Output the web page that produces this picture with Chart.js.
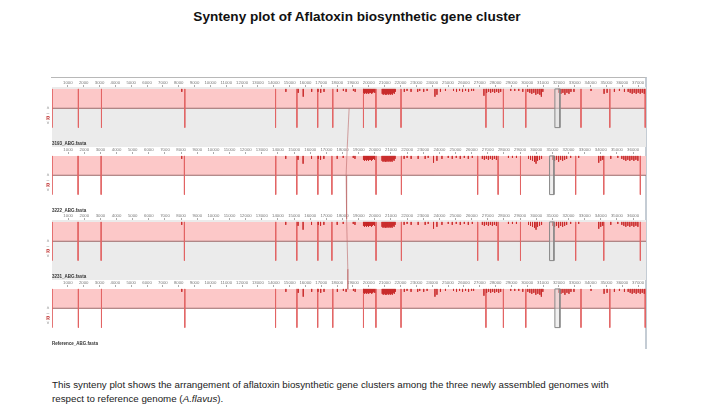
<!DOCTYPE html>
<html>
<head>
<meta charset="utf-8">
<script src="https://cdn.jsdelivr.net/npm/chart.js@4.4.0/dist/chart.umd.min.js"></script>
<style>
  body { margin: 0; width: 714px; height: 413px; background: #fff; position: relative; overflow: hidden; font-family: "Liberation Sans", Arial, sans-serif; }
  #title { position: absolute; left: 0; width: 714px; top: 9px; text-align: center; font-weight: bold; font-size: 13.6px; color: #111; }
  #frame { position: absolute; left: 51px; top: 77px; width: 594px; height: 271px; border-top: 1px solid #b8b8b8; border-right: 2px solid #c4ccd4; }
  .panel { position: absolute; left: 52px; width: 594px; height: 68px; }
  #overlay { position: absolute; left: 52px; top: 79px; width: 594px; height: 267px; pointer-events: none; }
  .ctl { position: absolute; left: 44px; width: 8px; font-size: 5px; line-height: 5px; text-align: center; color: #888; }
  .ctl b { color: #c03030; }
  #caption { position: absolute; left: 52px; top: 378px; font-size: 9.75px; line-height: 14px; color: #222; }
</style>
</head>
<body>
<div id="title">Synteny plot of Aflatoxin biosynthetic gene cluster</div>
<div id="frame"></div>
<canvas id="p0" class="panel" width="594" height="68" style="top:79px"></canvas>
<canvas id="p1" class="panel" width="594" height="68" style="top:146px"></canvas>
<canvas id="p2" class="panel" width="594" height="68" style="top:212px"></canvas>
<canvas id="p3" class="panel" width="594" height="68" style="top:279px"></canvas>
<canvas id="overlay" width="594" height="267"></canvas>
<div class="ctl" style="top:106px">&#708;<br>&ndash;<br><b>R</b><br>&#709;</div>
<div class="ctl" style="top:173px">&#708;<br>&ndash;<br><b>R</b><br>&#709;</div>
<div class="ctl" style="top:239px">&#708;<br>&ndash;<br><b>R</b><br>&#709;</div>
<div class="ctl" style="top:306px">&#708;<br>&ndash;<br><b>R</b><br>&#709;</div>
<div id="caption">This synteny plot shows the arrangement of aflatoxin biosynthetic gene clusters among the three newly assembled genomes with<br>respect to reference genome (<i>A.flavus</i>).</div>

<script>
// genomes, top to bottom
const panelNames = ['3193_ABG.fasta', '3222_ABG.fasta', '3231_ABG.fasta', 'Reference_ABG.fasta'];
const genomeLengths = [37500, 36800, 36800, 37500];

// ruler labels (bp)
const longTicks = [1000, 2000, 3000, 4000, 5000, 6000, 7000, 8000, 9000, 10000, 11000, 12000, 13000,
  14000, 15000, 16000, 17000, 18000, 19000, 20000, 21000, 22000, 23000, 24000, 25000, 26000,
  27000, 28000, 29000, 30000, 31000, 32000, 33000, 34000, 35000, 36000, 37000];
const shortTicks = [1000, 2000, 3000, 4000, 5000, 6000, 7000, 8000, 9000, 10000, 11000, 12000, 13000,
  14000, 15000, 16000, 17000, 18000, 19000, 20000, 21000, 22000, 23000, 24000, 25000, 26000,
  27000, 28000, 29000, 30000, 31000, 32000, 33000, 34000, 35000, 36000];

// LCB boundaries (bp)
const longBounds = [0, 1667, 3124, 8384, 14113, 15462, 16774, 17725, 19664, 20450, 22034,
  27395, 28498, 29911, 33396, 35215, 37450];
const shortBounds = [0, 1616, 3045, 8204, 13860, 15165, 16470, 17340, 20075, 21647,
  26370, 27638, 29024, 32442, 34183, 36450];

// similarity dips (bp) and how deep they drop
const longDipPos = [8194, 14765, 15545, 15861, 16394, 16793, 16964, 17173, 18016, 18396, 18567, 19030, 19138,
  19676, 19740, 19803, 19866, 19930, 19993, 20057, 20120, 20184, 20247, 20310, 20374,
  20849, 20912, 20975, 21039, 21102, 21166, 21229, 21292, 21356, 21419, 21483, 21546, 21609, 21673,
  22243, 22414, 22668, 23086, 23213, 23466, 23681, 24176, 24302, 24524, 24841,
  25348, 25538, 25728, 25918, 26108, 26299, 26489, 26615,
  27268, 27439, 27566, 27693, 27820, 27946, 28073, 28200, 28326,
  28960, 29213, 29467, 29721, 30037, 30163, 30290, 30418, 30544, 30671, 30798, 30893, 30988,
  32002, 32128, 32255, 32382, 32509, 32636, 32762, 32952, 34030, 34854, 35044,
  35506, 35823, 36140, 36374, 36501, 36628, 36755, 36881, 37008, 37135, 37262, 37389];
const longDipDepth = [0.15, 0.15, 0.2, 0.4, 0.15, 0.15, 0.2, 0.15, 0.15, 0.1, 0.15, 0.1, 0.15,
  0.2, 0.25, 0.2, 0.25, 0.2, 0.25, 0.2, 0.2, 0.25, 0.2, 0.15, 0.2,
  0.25, 0.3, 0.25, 0.3, 0.3, 0.25, 0.3, 0.25, 0.3, 0.25, 0.3, 0.2, 0.25, 0.15,
  0.15, 0.1, 0.15, 0.15, 0.1, 0.15, 0.1, 0.4, 0.3, 0.15, 0.1,
  0.1, 0.15, 0.1, 0.15, 0.1, 0.15, 0.1, 0.1,
  0.35, 0.2, 0.15, 0.2, 0.15, 0.2, 0.15, 0.2, 0.15,
  0.1, 0.1, 0.1, 0.15, 0.15, 0.2, 0.25, 0.2, 0.3, 0.25, 0.3, 0.4, 0.15,
  0.2, 0.25, 0.2, 0.3, 0.2, 0.25, 0.15, 0.15, 0.1, 0.25, 0.2,
  0.15, 0.1, 0.15, 0.15, 0.2, 0.25, 0.2, 0.25, 0.2, 0.25, 0.2, 0.25];
const shortDipPos = [8036, 14481, 15245, 15556, 16078, 16500, 16638, 16843, 17669, 18042, 18664, 18769,
  19297, 19359, 19421, 19483, 19546, 19608, 19670, 19732, 19794, 19856, 19918, 19981,
  20447, 20509, 20571, 20634, 20696, 20758, 20820, 20882, 20945, 21007, 21069, 21131, 21193, 21255,
  21815, 22001, 22250, 22685, 23120, 23306, 23636, 23847, 24158,
  24549, 24798, 25046, 25295, 25544, 25792, 26041,
  26662, 26786, 26911, 27035, 27160, 27284, 27408, 27532, 28278, 28527, 28775,
  29521, 29646, 29770, 29894, 29987, 30081, 30205, 30329,
  31013, 31137, 31261, 31386, 31510, 31634, 31759, 31883, 32132, 32629,
  33872, 33996, 34120, 34618, 35053,
  35301, 35426, 35550, 35674, 35799, 35923, 36047, 36172, 36296];
const shortDipDepth = [0.15, 0.15, 0.2, 0.4, 0.15, 0.15, 0.2, 0.15, 0.15, 0.1, 0.1, 0.15,
  0.2, 0.25, 0.2, 0.25, 0.2, 0.25, 0.2, 0.2, 0.25, 0.2, 0.15, 0.2,
  0.25, 0.3, 0.25, 0.3, 0.3, 0.25, 0.3, 0.25, 0.3, 0.25, 0.3, 0.2, 0.25, 0.15,
  0.15, 0.1, 0.15, 0.15, 0.15, 0.1, 0.35, 0.25, 0.15,
  0.1, 0.15, 0.1, 0.15, 0.1, 0.15, 0.1,
  0.15, 0.2, 0.15, 0.2, 0.15, 0.2, 0.15, 0.2, 0.1, 0.1, 0.1,
  0.15, 0.2, 0.25, 0.3, 0.4, 0.25, 0.2, 0.15,
  0.2, 0.25, 0.2, 0.3, 0.2, 0.25, 0.2, 0.15, 0.1, 0.1,
  0.35, 0.25, 0.2, 0.15, 0.1,
  0.15, 0.2, 0.25, 0.2, 0.25, 0.2, 0.25, 0.2, 0.25];

// the small boxed LCB
const longBox = [31748, 32065];
const shortBox = [30826, 31096];

// connector line: position (bp, reference scale) and track row
const connectorPos = [18758, 18631, 18568, 18600, 18676, 18676];
const connectorRow = [0.44, 1.06, 1.44, 2.1, 2.85, 3.15];

const panelTicks = [longTicks, shortTicks, shortTicks, longTicks];
const panelBounds = [longBounds, shortBounds, shortBounds, longBounds];
const panelDipPos = [longDipPos, shortDipPos, shortDipPos, longDipPos];
const panelDipDepth = [longDipDepth, shortDipDepth, shortDipDepth, longDipDepth];
const panelBox = [longBox, shortBox, shortBox, longBox];
const panelShaded = [true, false, true, false];

Chart.defaults.font.family = '"Liberation Sans", Arial, sans-serif';

// vertical segments separated by gaps
function segments(xs, top, bottoms) {
    const pts = [];
    xs.forEach((x, i) => {
        pts.push({ x: x, y: top }, { x: x, y: bottoms[i] }, { x: x, y: null });
    });
    return pts;
}

const shadePlugin = {
    id: 'shade',
    beforeDraw(chart, args, opts) {
        if (!opts.on) return;
        const ctx = chart.ctx;
        ctx.save();
        ctx.fillStyle = '#ebebeb';
        ctx.fillRect(0, chart.chartArea.top, chart.width, chart.height - chart.chartArea.top);
        ctx.restore();
    }
};

for (let i = 0; i < 4; i++) {
    const len = genomeLengths[i];
    const bounds = panelBounds[i];
    const box = panelBox[i];
    const ticks = panelTicks[i];

    new Chart(document.getElementById('p' + i), {
        type: 'line',
        plugins: [shadePlugin],
        data: {
            datasets: [
                {
                    // LCB block
                    data: [{ x: 0, y: 1 }, { x: len, y: 1 }],
                    fill: { value: 0 },
                    backgroundColor: '#fcc8c8',
                    borderWidth: 0,
                    pointRadius: 0,
                    order: 5
                },
                {
                    data: [{ x: 0, y: 0 }, { x: len, y: 0 }],
                    borderColor: '#9c6b6b',
                    borderWidth: 1,
                    pointRadius: 0,
                    order: 4
                },
                {
                    data: segments(bounds, 1, bounds.map(() => -1)),
                    borderColor: '#e26464',
                    borderWidth: 1,
                    pointRadius: 0,
                    spanGaps: false,
                    order: 3
                },
                {
                    data: segments(panelDipPos[i], 1, panelDipDepth[i].map(d => 1 - d)),
                    borderColor: 'rgba(200,40,40,0.8)',
                    borderWidth: 1,
                    pointRadius: 0,
                    spanGaps: false,
                    order: 2
                },
                {
                    data: [{ x: box[0], y: 1 }, { x: box[1], y: 1 }, { x: box[1], y: -1 },
                           { x: box[0], y: -1 }, { x: box[0], y: 1 }],
                    fill: 'shape',
                    backgroundColor: 'rgba(225,225,225,0.5)',
                    borderColor: '#888',
                    borderWidth: 1,
                    pointRadius: 0,
                    order: 1
                }
            ]
        },
        options: {
            responsive: false,
            animation: false,
            devicePixelRatio: 1,
            layout: { padding: 0 },
            plugins: {
                legend: { display: false },
                tooltip: { enabled: false },
                shade: { on: panelShaded[i] },
                title: {
                    display: true,
                    text: panelNames[i],
                    position: 'bottom',
                    align: 'start',
                    color: '#333',
                    font: { size: 4.5, lineHeight: 1 },
                    padding: { top: 1, bottom: 1 }
                }
            },
            scales: {
                x: {
                    type: 'linear',
                    position: 'top',
                    min: 0,
                    max: len,
                    afterBuildTicks: s => {
                        s.ticks = ticks.map(v => ({ value: v }));
                    },
                    afterFit: s => { s.height = 8; },
                    ticks: {
                        autoSkip: false,
                        maxRotation: 0,
                        padding: 0,
                        color: '#777',
                        font: { size: 4.3, lineHeight: 1 },
                        callback: v => String(v)
                    },
                    grid: { drawOnChartArea: false, tickLength: 2, color: '#aaa' },
                    border: { display: false }
                },
                y: {
                    display: false,
                    min: -1.667,
                    max: 1.1
                }
            }
        }
    });
}

// connector between the genomes
new Chart(document.getElementById('overlay'), {
    type: 'line',
    data: {
        datasets: [{
            data: connectorPos.map((x, i) => ({ x: x, y: connectorRow[i] })),
            borderColor: 'rgba(190,110,110,0.8)',
            borderWidth: 0.8,
            pointRadius: 0
        }]
    },
    options: {
        responsive: false,
        animation: false,
        devicePixelRatio: 1,
        layout: { padding: 0 },
        plugins: { legend: { display: false }, tooltip: { enabled: false } },
        scales: {
            x: { type: 'linear', display: false, min: 0, max: 37500 },
            y: { display: false, min: 0, max: 4, reverse: true }
        }
    }
});
</script>
</body>
</html>
